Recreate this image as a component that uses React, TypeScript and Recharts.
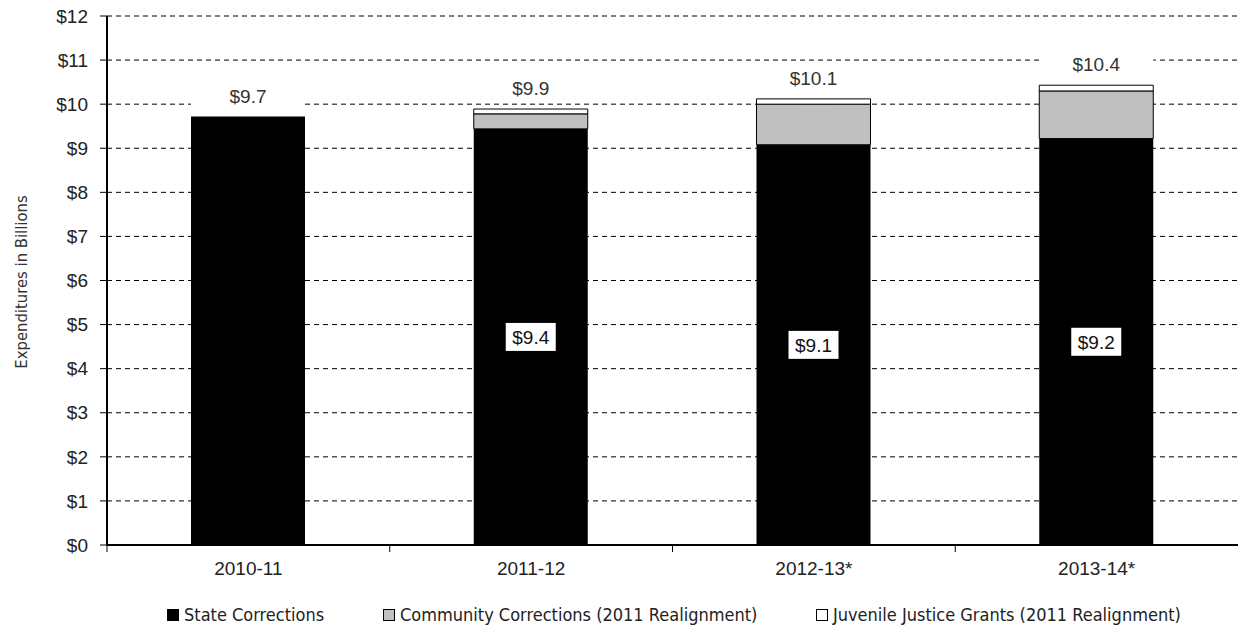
import { Bar, BarChart, CartesianGrid, LabelList, XAxis, YAxis } from "recharts";

const years = ["2010-11", "2011-12", "2012-13*", "2013-14*"];
const stateCorrections = [9.72, 9.44, 9.08, 9.22];
const communityCorrections = [0, 0.34, 0.92, 1.08];
const juvenileGrants = [0, 0.11, 0.12, 0.13];
const totalLabels = ["$9.7", "$9.9", "$10.1", "$10.4"];
const stateLabels = ["", "$9.4", "$9.1", "$9.2"];
const yTicks = [0, 1, 2, 3, 4, 5, 6, 7, 8, 9, 10, 11, 12];

const legendItems = [
  { name: "State Corrections", color: "#000000", left: 167 },
  { name: "Community Corrections (2011 Realignment)", color: "#c0c0c0", left: 383 },
  { name: "Juvenile Justice Grants (2011 Realignment)", color: "#ffffff", left: 816 },
];

const CHART_W = 1238;
const CHART_H = 627;
const Y_AXIS_W = 107;
const BAND = (CHART_W - Y_AXIS_W) / years.length;
const SANS = "'Liberation Sans', Arial, sans-serif";
const NARROW = "'DejaVu Sans Condensed', 'Liberation Sans Narrow', sans-serif";

const data = years.map((year, i) => ({
  year,
  state: stateCorrections[i],
  community: communityCorrections[i],
  juvenile: juvenileGrants[i],
}));

function XTick(props: any) {
  const { x, y, payload } = props;
  return (
    <g>
      <line x1={x - BAND / 2} x2={x - BAND / 2} y1={y} y2={y + 7} stroke="#000" strokeWidth={1} />
      <text x={x} y={y + 30} textAnchor="middle" fill="#222" fontSize={19} fontFamily={SANS}>
        {payload.value}
      </text>
    </g>
  );
}

// state bar labels: white box in the middle, and the total above the whole stack
function StateLabel(props: any) {
  const { x, y, width, height, index, value } = props;
  const text = stateLabels[index];
  const cx = x + width / 2;
  const cy = y + height / 2;
  const perUnit = height / value;
  const topY = y - (communityCorrections[index] + juvenileGrants[index]) * perUnit;
  return (
    <g>
      {text && (
        <>
          <rect x={cx - 25} y={cy - 14} width={50} height={28} fill="#fff" />
          <text x={cx} y={cy + 7} textAnchor="middle" fill="#111" fontSize={19} fontFamily={SANS}>
            {text}
          </text>
        </>
      )}
      <rect x={x} y={topY - 33} width={width} height={26} fill="#fff" />
      <text x={cx} y={topY - 14} textAnchor="middle" fill="#333" fontSize={19} fontFamily={SANS}>
        {totalLabels[index]}
      </text>
    </g>
  );
}

function YTitle() {
  return (
    <text
      x={27}
      y={282}
      transform="rotate(-90 27 282)"
      textAnchor="middle"
      fill="#333"
      fontSize={16.5}
      fontFamily={NARROW}
    >
      Expenditures in Billions
    </text>
  );
}

export default function App() {
  return (
    <div style={{ position: "absolute", left: 0, top: 0, width: CHART_W, height: CHART_H, background: "#fff" }}>
      <BarChart
        width={CHART_W}
        height={CHART_H}
        data={data}
        margin={{ top: 16, right: 0, bottom: 0, left: 0 }}
        barSize={114}
      >
        <CartesianGrid vertical={false} stroke="#000" strokeDasharray="5 4" />
        <XAxis
          dataKey="year"
          height={82}
          tickSize={0}
          tickMargin={0}
          tickLine={false}
          axisLine={{ stroke: "#000", strokeWidth: 2 }}
          tick={<XTick />}
          interval={0}
        />
        <YAxis
          width={Y_AXIS_W}
          domain={[0, 12]}
          ticks={yTicks}
          interval={0}
          tickFormatter={(v) => `$${v}`}
          tickSize={7}
          tickMargin={12}
          tickLine={{ stroke: "#000" }}
          axisLine={{ stroke: "#000", strokeWidth: 2 }}
          tick={{ fill: "#222", fontSize: 19, fontFamily: SANS }}
          label={<YTitle />}
        />
        <Bar dataKey="state" stackId="a" fill="#000" isAnimationActive={false}>
          <LabelList dataKey="state" content={<StateLabel />} />
        </Bar>
        <Bar dataKey="community" stackId="a" fill="#c0c0c0" stroke="#000" strokeWidth={1} isAnimationActive={false} />
        <Bar dataKey="juvenile" stackId="a" fill="#fff" stroke="#000" strokeWidth={1} isAnimationActive={false} />
      </BarChart>
      {legendItems.map((item) => (
        <div
          key={item.name}
          style={{
            position: "absolute",
            left: item.left,
            top: 605,
            display: "flex",
            alignItems: "center",
            fontFamily: NARROW,
            fontSize: 18,
            color: "#222",
            whiteSpace: "nowrap",
            lineHeight: "20px",
          }}
        >
          <span
            style={{
              display: "inline-block",
              width: 10,
              height: 10,
              background: item.color,
              border: "1px solid #000",
              marginRight: 5,
            }}
          />
          {item.name}
        </div>
      ))}
    </div>
  );
}
